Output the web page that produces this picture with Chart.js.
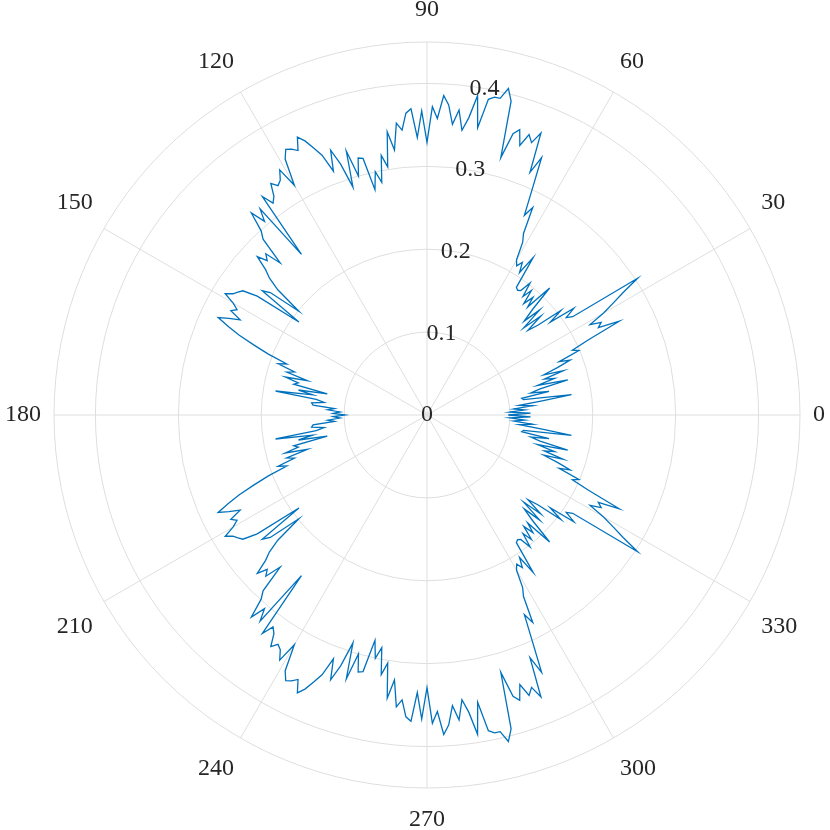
<!DOCTYPE html>
<html>
<head>
<meta charset="utf-8">
<script src="https://cdn.jsdelivr.net/npm/chart.js@4.4.1/dist/chart.umd.min.js"></script>
<style>
  html, body { margin: 0; padding: 0; background: #fff; }
  canvas { display: block; }
</style>
</head>
<body>
<canvas id="polar" width="830" height="830"></canvas>
<script>
// one radius per degree, 0..359 counter-clockwise from the right
const angleStep = 1;
const radius = [
  0.098, 0.125, 0.100, 0.118, 0.105, 0.128, 0.112, 0.140, 0.176, 0.118,
  0.116, 0.150, 0.128, 0.140, 0.175, 0.138, 0.160, 0.148, 0.173, 0.149,
  0.168, 0.185, 0.172, 0.199, 0.192, 0.215, 0.258, 0.232, 0.238, 0.225,
  0.246, 0.262, 0.279, 0.303, 0.212, 0.205, 0.219, 0.186, 0.205, 0.172,
  0.159, 0.182, 0.157, 0.186, 0.163, 0.180, 0.213, 0.178, 0.191, 0.178,
  0.196, 0.184, 0.202, 0.188, 0.186, 0.188, 0.229, 0.205, 0.217, 0.210,
  0.216, 0.238, 0.248, 0.281, 0.268, 0.300, 0.340, 0.318, 0.367, 0.352,
  0.360, 0.344, 0.362, 0.355, 0.323, 0.392, 0.406, 0.392, 0.392, 0.388,
  0.352, 0.390, 0.362, 0.346, 0.370, 0.352, 0.375, 0.386, 0.358, 0.372,
  0.329, 0.367, 0.335, 0.370, 0.365, 0.345, 0.354, 0.322, 0.345, 0.303,
  0.318, 0.286, 0.300, 0.279, 0.319, 0.321, 0.300, 0.333, 0.289, 0.320,
  0.340, 0.315, 0.338, 0.350, 0.362, 0.370, 0.355, 0.360, 0.363, 0.353,
  0.320, 0.345, 0.334, 0.330, 0.337, 0.322, 0.316, 0.330, 0.246, 0.320,
  0.305, 0.323, 0.299, 0.290, 0.255, 0.275, 0.268, 0.280, 0.262, 0.252,
  0.235, 0.199, 0.240, 0.249, 0.191, 0.250, 0.268, 0.272, 0.276, 0.284,
  0.270, 0.262, 0.268, 0.253, 0.266, 0.278, 0.262, 0.246, 0.225, 0.205,
  0.180, 0.190, 0.168, 0.177, 0.150, 0.177, 0.160, 0.165, 0.123, 0.158,
  0.140, 0.185, 0.135, 0.125, 0.140, 0.138, 0.112, 0.120, 0.105, 0.113,
  0.099, 0.113, 0.105, 0.120, 0.112, 0.138, 0.140, 0.125, 0.135, 0.185,
  0.140, 0.158, 0.123, 0.165, 0.160, 0.177, 0.150, 0.177, 0.168, 0.190,
  0.180, 0.205, 0.225, 0.246, 0.262, 0.278, 0.266, 0.253, 0.268, 0.262,
  0.270, 0.284, 0.276, 0.272, 0.268, 0.250, 0.191, 0.249, 0.240, 0.199,
  0.235, 0.252, 0.262, 0.280, 0.268, 0.275, 0.255, 0.290, 0.299, 0.323,
  0.305, 0.320, 0.246, 0.330, 0.316, 0.322, 0.337, 0.330, 0.334, 0.345,
  0.320, 0.353, 0.363, 0.360, 0.355, 0.370, 0.362, 0.350, 0.338, 0.315,
  0.340, 0.320, 0.289, 0.333, 0.300, 0.321, 0.319, 0.279, 0.300, 0.286,
  0.318, 0.303, 0.345, 0.322, 0.354, 0.345, 0.365, 0.370, 0.335, 0.367,
  0.329, 0.372, 0.358, 0.386, 0.375, 0.352, 0.370, 0.346, 0.362, 0.390,
  0.352, 0.388, 0.392, 0.392, 0.406, 0.392, 0.323, 0.355, 0.362, 0.344,
  0.360, 0.352, 0.367, 0.318, 0.340, 0.300, 0.268, 0.281, 0.248, 0.238,
  0.216, 0.210, 0.217, 0.205, 0.229, 0.188, 0.186, 0.188, 0.202, 0.184,
  0.196, 0.178, 0.191, 0.178, 0.213, 0.180, 0.163, 0.186, 0.157, 0.182,
  0.159, 0.172, 0.205, 0.186, 0.219, 0.205, 0.212, 0.303, 0.279, 0.262,
  0.246, 0.225, 0.238, 0.232, 0.258, 0.215, 0.192, 0.199, 0.172, 0.185,
  0.168, 0.149, 0.173, 0.148, 0.160, 0.138, 0.175, 0.140, 0.128, 0.150,
  0.116, 0.118, 0.176, 0.140, 0.112, 0.128, 0.105, 0.118, 0.100, 0.125
];
const angleTicks = [0, 30, 60, 90, 120, 150, 180, 210, 240, 270, 300, 330];
const radiusTicks = [0, 0.1, 0.2, 0.3, 0.4];
const radiusMax = 0.45;
const radiusTickAngle = 80;

const angles = radius.map((r, i) => i * angleStep);
// radar goes clockwise, so walk the angles backwards starting at 0
const order = angles.map((a, j) => (angles.length - j) % angles.length);
const radarLabels = order.map(i => angles[i]);
const radarData = order.map(i => radius[i]);

const textColor = '#262626';
const textFont = '24px "Liberation Serif", "DejaVu Serif", serif';

// matlab style labels: theta labels round the rim, r labels along 80 degrees
const polarText = {
  id: 'polarText',
  afterDraw(chart) {
    const s = chart.scales.r;
    const ctx = chart.ctx;
    ctx.save();
    ctx.fillStyle = textColor;
    ctx.font = textFont;
    ctx.textBaseline = 'middle';

    angleTicks.forEach(a => {
      const t = a * Math.PI / 180;
      const c = Math.cos(t);
      const sn = Math.sin(t);
      const R = s.drawingArea + 13;
      const x = s.xCenter + R * c;
      let y = s.yCenter - R * sn;
      ctx.textAlign = Math.abs(c) < 0.01 ? 'center' : (c > 0 ? 'left' : 'right');
      if (Math.abs(sn) > 0.01) y -= Math.sign(sn) * 19;
      ctx.fillText(String(a), x, y);
    });

    ctx.textAlign = 'center';
    const t = radiusTickAngle * Math.PI / 180;
    radiusTicks.forEach(v => {
      const d = s.getDistanceFromCenterForValue(v);
      ctx.fillText(String(v), s.xCenter + d * Math.cos(t), s.yCenter - d * Math.sin(t));
    });
    ctx.restore();
  }
};

new Chart('polar', {
  type: 'radar',
  data: {
    labels: radarLabels,
    datasets: [{
      data: radarData,
      borderColor: '#0072BD',
      borderWidth: 1.3,
      pointRadius: 0,
      fill: false,
      tension: 0
    }]
  },
  options: {
    responsive: false,
    animation: false,
    devicePixelRatio: 1,
    layout: { padding: { left: 54, right: 30, top: 42, bottom: 42 } },
    plugins: {
      legend: { display: false },
      tooltip: { enabled: false }
    },
    scales: {
      r: {
        min: 0,
        max: radiusMax,
        startAngle: 90,
        afterBuildTicks: axis => {
          axis.ticks = radiusTicks.concat([radiusMax]).map(v => ({ value: v }));
        },
        ticks: { display: false },
        grid: { circular: true, color: '#dedede', lineWidth: 1 },
        angleLines: {
          color: '#dedede',
          lineWidth: ctx => (Number(ctx.label) % 30 === 0 ? 1 : 0)
        },
        pointLabels: { display: false }
      }
    }
  },
  plugins: [polarText]
});
</script>
</body>
</html>
